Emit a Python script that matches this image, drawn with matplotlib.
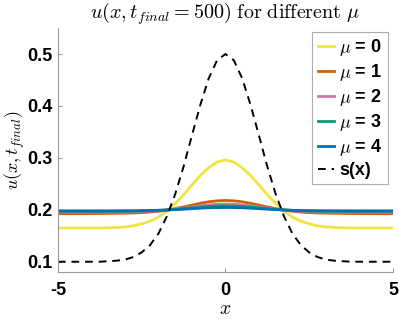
import numpy as np
import matplotlib
matplotlib.use('Agg')
import matplotlib.pyplot as plt

plt.rcParams['font.family'] = 'Liberation Sans'
plt.rcParams['font.weight'] = 'bold'
plt.rcParams['mathtext.fontset'] = 'cm'
plt.rcParams['axes.unicode_minus'] = False

# half profiles, x = 0, 0.25, ..., 5 (curves are symmetric)
x_half = np.arange(0, 5.01, 0.25)
s_half = [0.500, 0.488, 0.453, 0.402, 0.343, 0.283, 0.230, 0.187, 0.154, 0.132, 0.118,
          0.109, 0.104, 0.102, 0.101, 0.100, 0.100, 0.100, 0.100, 0.100, 0.100]
mu0_half = [0.296, 0.292, 0.281, 0.266, 0.248, 0.229, 0.212, 0.197, 0.186, 0.178, 0.173,
            0.169, 0.167, 0.166, 0.1655, 0.165, 0.165, 0.165, 0.165, 0.165, 0.165]
mu1_half = [0.218, 0.2173, 0.2154, 0.2125, 0.209, 0.2055, 0.2022, 0.1994, 0.1972, 0.1956, 0.1946,
            0.1939, 0.1935, 0.1932, 0.1930, 0.1928, 0.1927, 0.1926, 0.1925, 0.1925, 0.1925]
mu2_half = [0.211, 0.2106, 0.2094, 0.2076, 0.2054, 0.2032, 0.2012, 0.1995, 0.1981, 0.1971, 0.1965,
            0.1960, 0.1958, 0.1956, 0.1956, 0.1955, 0.1955, 0.1955, 0.1955, 0.1955, 0.1955]
mu3_half = [0.2075, 0.2072, 0.2064, 0.2052, 0.2037, 0.2022, 0.2009, 0.1997, 0.1988, 0.1981, 0.1977,
            0.1974, 0.1972, 0.1971, 0.1970, 0.1970, 0.1970, 0.1970, 0.1970, 0.1970, 0.1970]
mu4_half = [0.2045, 0.2043, 0.2038, 0.2031, 0.2022, 0.2012, 0.2004, 0.1997, 0.1991, 0.1987, 0.1984,
            0.1982, 0.1981, 0.1981, 0.1980, 0.1980, 0.1980, 0.1980, 0.1980, 0.1980, 0.1980]

mus = [0, 1, 2, 3, 4]
colors = ['#F0E442', '#D55E00', '#CC79A7', '#009E73', '#0072B2']


def mirror(v):
    v = np.asarray(v)
    return np.concatenate([v[:0:-1], v])


x = np.concatenate([-x_half[:0:-1], x_half])

fig = plt.figure(figsize=(3.99, 3.19), dpi=100)
ax = fig.add_axes([0.145, 0.147, 0.84, 0.765])

for mu, half, c in zip(mus, [mu0_half, mu1_half, mu2_half, mu3_half, mu4_half], colors):
    ax.plot(x, mirror(half), color=c, lw=2.0, label=r'$\mu$ = %d' % mu)
ax.plot(x, mirror(s_half), 'k--', lw=1.4, dashes=(4, 3), label='s(x)')

ax.set_xlim(-5, 5)
ax.set_ylim(0.08, 0.55)
ax.set_xticks([-5, 0, 5])
ax.set_yticks([0.1, 0.2, 0.3, 0.4, 0.5])
ax.tick_params(direction='in', length=3, color='#999999', labelsize=13)
ax.tick_params(axis='x', pad=7)
ax.tick_params(axis='y', pad=4)
for sp in ['top', 'right']:
    ax.spines[sp].set_visible(False)
for sp in ['left', 'bottom']:
    ax.spines[sp].set_color('#999999')
    ax.spines[sp].set_linewidth(0.8)

ax.set_title(r'$u(x,t_{final}=500)\ \mathrm{for\ different}\ \mu$', fontsize=14.5, pad=7)
ax.set_xlabel(r'$x$', fontsize=14, labelpad=1.5)
ax.set_ylabel(r'$u(x,t_{final})$', fontsize=13, labelpad=0)

leg = ax.legend(loc='upper right', bbox_to_anchor=(0.985, 0.985), borderaxespad=0,
                fontsize=13, fancybox=False, handlelength=0.9, handletextpad=0.3,
                labelspacing=0.22, borderpad=0.3)
leg.get_frame().set_edgecolor('#999999')
leg.get_frame().set_linewidth(0.8)

fig.savefig('out.png', dpi=100)
